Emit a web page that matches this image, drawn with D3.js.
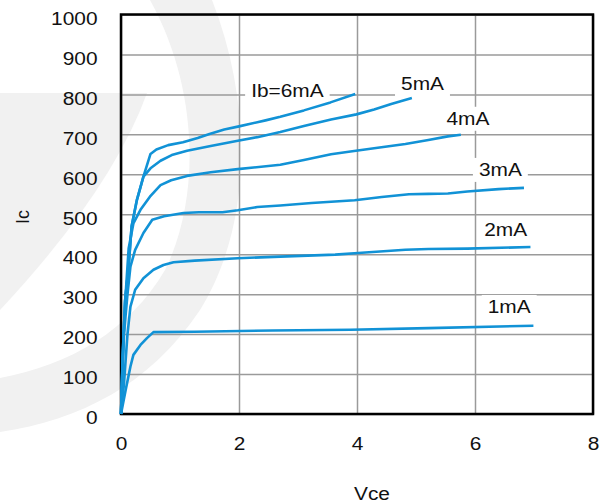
<!DOCTYPE html>
<meta charset="utf-8">
<script src="https://cdn.jsdelivr.net/npm/d3@7"></script>
<style>
  body { margin: 0; background: #fff; }
  text { font-family: 'Liberation Sans', Arial, sans-serif; fill: #111; }
</style>
<svg width="611" height="504"></svg>
<script>
// Ic (mA) vs Vce (V), one array of [vce, ic] per base current
var ib6 = [[0,0],[0.03,150],[0.07,285],[0.13,370],[0.18,470],[0.27,536],[0.38,594],[0.5,651],[0.6,662],[0.8,673],[1.05,680],[1.3,691],[1.5,701],[1.75,712],[2,720],[2.45,735],[2.7,744],[3.1,760],[3.55,780],[3.97,801]]
var ib5 = [[0,0],[0.03,150],[0.07,285],[0.13,370],[0.18,470],[0.27,536],[0.38,594],[0.5,615],[0.67,634],[0.86,648],[1.12,659],[1.52,671],[1.98,684],[2.31,693],[2.7,706],[3.1,721],[3.56,737],[3.99,750],[4.29,762],[4.58,776],[4.93,791]]
var ib4 = [[0,0],[0.03,140],[0.07,280],[0.13,415],[0.21,477],[0.33,511],[0.49,544],[0.67,573],[0.85,585],[1.12,596],[1.52,605],[1.98,613],[2.7,624],[3.1,636],[3.56,650],[3.89,657],[4.29,665],[4.82,676],[5.21,686],[5.54,695],[5.76,699]]
var ib3 = [[0,0],[0.05,200],[0.11,300],[0.16,369],[0.24,411],[0.38,453],[0.53,486],[0.73,495],[1.06,503],[1.32,505],[1.72,505],[1.98,510],[2.31,518],[2.7,522],[3.23,528],[3.96,535],[4.42,543],[4.88,550],[5.21,551],[5.54,552],[5.87,557],[6.4,563],[6.83,566]]
var ib2 = [[0,0],[0.05,75],[0.11,200],[0.16,269],[0.24,311],[0.38,340],[0.55,361],[0.72,373],[0.89,380],[1.25,384],[1.98,390],[2.7,394],[3.63,399],[4.02,403],[4.82,411],[5.21,413],[5.87,414],[6.94,418]]
var ib1 = [[0,0],[0.08,61],[0.16,119],[0.21,148],[0.33,173],[0.44,190],[0.55,205],[1.25,206],[2.57,209],[3.89,211],[5.21,215],[6.99,221]]

var curves = [ib6, ib5, ib4, ib3, ib2, ib1]
var curveLabels = ['Ib=6mA', '5mA', '4mA', '3mA', '2mA', '1mA']
var labelVce = [2.82, 5.11, 5.88, 6.43, 6.52, 6.58]
var labelIc = [810, 826, 739, 611, 461, 268]

var xTicks = [0, 2, 4, 6, 8]
var yTicks = [0, 100, 200, 300, 400, 500, 600, 700, 800, 900, 1000]

var blue = '#1192d6'
var stretch = 1.16   // the source picture is a little wider than tall

var svg = d3.select('svg'),
    margin = {top: 14.5, right: 18, bottom: 90, left: 121},
    width = 611 - margin.left - margin.right,
    height = 504 - margin.top - margin.bottom

// faint logo watermark in the background
svg.append('path')
    .attr('fill', '#f1f1f1')
    .attr('d', 'M212,0 C255,110 250,230 200,310 C150,385 80,420 0,432 L0,378 C70,365 130,330 165,270 C200,200 200,90 150,0 Z')
svg.append('path')
    .attr('fill', '#f1f1f1')
    .attr('d', 'M0,93 L147,93 Q112,190 0,310 Z')

var g = svg.append('g').attr('transform', 'translate(' + margin.left + ',' + margin.top + ')')

var x = d3.scaleLinear().domain([0, 8]).range([0, width])
var y = d3.scaleLinear().domain([0, 1000]).range([height, 0])

var gx = g.append('g')
    .attr('transform', 'translate(0,' + height + ')')
    .call(d3.axisBottom(x).tickValues(xTicks).tickFormat(d3.format('d')).tickSize(-height).tickPadding(23.7))
var gy = g.append('g')
    .call(d3.axisLeft(y).tickValues(yTicks).tickFormat(d3.format('d')).tickSize(-width).tickPadding(20.2))

;[gx, gy].forEach(function(a) {
  a.select('.domain').remove()
  a.selectAll('line').attr('stroke', '#9a9a9a').attr('stroke-width', 1.5)
  a.selectAll('text')
      .style('font-size', '18px')
      .attr('fill', '#111')
      .attr('transform', 'scale(' + stretch + ',1)')
})
gy.selectAll('text').attr('y', 4)

g.append('rect')
    .attr('width', width)
    .attr('height', height)
    .attr('fill', 'none')
    .attr('stroke', '#000')
    .attr('stroke-width', 2.5)

// white boxes behind the curve labels cut the grid, but sit under the curves
var boxLayer = g.append('g')
var curveLayer = g.append('g')
var textLayer = g.append('g')

var labelPos = function(d, i) { return 'translate(' + x(labelVce[i]) + ',' + y(labelIc[i]) + ')' }

var texts = textLayer.selectAll('text')
    .data(curveLabels)
  .enter().append('text')
    .attr('text-anchor', 'middle')
    .attr('dy', '0.35em')
    .attr('transform', function(d, i) { return labelPos(d, i) + ' scale(' + stretch + ',1)' })
    .style('font-size', '18px')
    .text(function(d) { return d })

boxLayer.selectAll('rect')
    .data(curveLabels)
  .enter().append('rect')
    .attr('transform', labelPos)
    .attr('fill', '#fff')
    .each(function(d, i) {
      var w = texts.nodes()[i].getBBox().width * stretch + 12
      d3.select(this)
          .attr('x', -w / 2)
          .attr('y', -12)
          .attr('width', w)
          .attr('height', 24)
    })

var line = d3.line()
    .x(function(d) { return x(d[0]) })
    .y(function(d) { return y(d[1]) })

curveLayer.selectAll('path')
    .data(curves)
  .enter().append('path')
    .attr('fill', 'none')
    .attr('stroke', blue)
    .attr('stroke-width', 2.6)
    .attr('stroke-linejoin', 'round')
    .attr('d', line)

svg.append('text')
    .attr('x', 372)
    .attr('y', 494)
    .attr('dy', '0.35em')
    .attr('text-anchor', 'middle')
    .attr('transform', 'translate(372,0) scale(' + stretch + ',1) translate(-372,0)')
    .style('font-size', '18px')
    .text('Vce')

svg.append('text')
    .attr('transform', 'translate(23,217) rotate(-90)')
    .attr('dy', '0.35em')
    .attr('text-anchor', 'middle')
    .style('font-size', '18px')
    .text('Ic')
</script>
